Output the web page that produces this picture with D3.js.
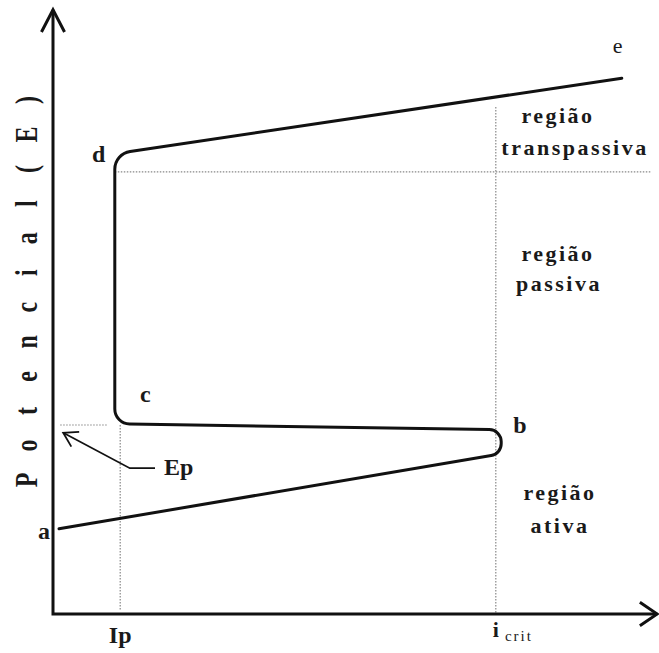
<!DOCTYPE html>
<html>
<head>
<meta charset="utf-8">
<script src="https://cdn.jsdelivr.net/npm/d3@7"></script>
<style>
  body { margin: 0; background: #fff; }
  svg text { font-family: "Liberation Serif", "DejaVu Serif", serif; fill: #1a1a1a; }
  .curve { fill: none; stroke: #111; stroke-width: 3; stroke-linejoin: round; stroke-linecap: round; }
  .axis { fill: none; stroke: #111; stroke-width: 3; }
  .ref { fill: none; stroke: #888; stroke-width: 1.2; stroke-dasharray: 1.5,1.5; }
</style>
</head>
<body>
<svg id="chart" width="659" height="653"></svg>
<script>
(function(){
  // curve vertices (current, potential) in schematic units: a -> b loop -> c -> d -> e
  var curveI = [1, 74.7, 74.7, 10.3, 10.3, 94.8];
  var curveE = [14.2, 26.7, 30.7, 31.7, 76.7, 89.3];
  var cornerR = [0, 12, 12, 15, 18, 0];

  // reference levels
  var Ip = 11.2, iCrit = 73.8, Ep = 31.5, Etr = 73.7;

  var pointLabels = ['a', 'b', 'c', 'd', 'e'];
  var yLabelChars = 'Potencial(E)'.split('');

  var svg = d3.select('#chart');
  var x = d3.scaleLinear().domain([0, 100]).range([53, 653]);
  var y = d3.scaleLinear().domain([0, 100]).range([614, 14]);

  // Helpers
  function roundedPath(pts, radii) {
    var p = d3.path();
    p.moveTo(pts[0][0], pts[0][1]);
    for (var i = 1; i < pts.length - 1; i++) {
      p.arcTo(pts[i][0], pts[i][1], pts[i+1][0], pts[i+1][1], radii[i]);
    }
    var last = pts[pts.length - 1];
    p.lineTo(last[0], last[1]);
    return p.toString();
  }

  function arrowHead(g, tip, from, len, spread, width) {
    var ang = Math.atan2(from[1] - tip[1], from[0] - tip[0]);
    var w1 = [tip[0] + len * Math.cos(ang + spread), tip[1] + len * Math.sin(ang + spread)];
    var w2 = [tip[0] + len * Math.cos(ang - spread), tip[1] + len * Math.sin(ang - spread)];
    g.append('path')
      .attr('d', d3.line()([w1, tip, w2]))
      .attr('fill', 'none')
      .attr('stroke', '#111')
      .attr('stroke-width', width);
  }

  // Reference (dotted) lines
  var refs = svg.append('g');
  refs.append('line').attr('class', 'ref')
    .attr('x1', x(Ip)).attr('x2', x(Ip)).attr('y1', y(Ep)).attr('y2', y(0.6));
  refs.append('line').attr('class', 'ref')
    .attr('x1', x(1.2)).attr('x2', x(9)).attr('y1', y(Ep)).attr('y2', y(Ep));
  refs.append('line').attr('class', 'ref')
    .attr('x1', x(iCrit)).attr('x2', x(iCrit)).attr('y1', y(84.5)).attr('y2', y(0));
  refs.append('line').attr('class', 'ref')
    .attr('x1', x(10.3)).attr('x2', x(99.8)).attr('y1', y(Etr)).attr('y2', y(Etr));

  // Axes
  var axes = svg.append('g');
  axes.append('path').attr('class', 'axis')
    .attr('d', d3.line()([[x(0), y(100.7)], [x(0), y(0)], [x(100.7), y(0)]]));
  arrowHead(axes, [x(0), y(100.7)], [x(0), y(0)], 25, 0.48, 3);
  arrowHead(axes, [x(100.7), y(0)], [x(0), y(0)], 21, 0.6, 3);

  // Polarization curve
  var pts = curveI.map(function(d, i) { return [x(d), y(curveE[i])]; });
  svg.append('path').attr('class', 'curve').attr('d', roundedPath(pts, cornerR));

  // Ep pointer
  var epG = svg.append('g');
  var epPts = [[x(17), y(24.3)], [x(12.8), y(24.3)], [x(1.7), y(30.2)]];
  epG.append('path').attr('d', d3.line()(epPts))
    .attr('fill', 'none').attr('stroke', '#111').attr('stroke-width', 1.8);
  arrowHead(epG, epPts[2], epPts[1], 16, 0.55, 1.8);

  // Point labels
  var labelPos = [[-2.5, 12.5], [76.7, 30.2], [14.5, 35.3], [6.5, 75.3], [93.3, 93.5]];
  svg.append('g').selectAll('text')
    .data(pointLabels)
    .enter()
    .append('text')
    .attr('x', function(d, i) { return x(labelPos[i][0]); })
    .attr('y', function(d, i) { return y(labelPos[i][1]); })
    .attr('font-size', function(d) { return d === 'e' ? 22 : 24; })
    .attr('font-weight', function(d) { return d === 'e' ? 'normal' : 'bold'; })
    .text(function(d) { return d; });

  svg.append('text').attr('x', x(18.5)).attr('y', y(23.2))
    .attr('font-size', 24).attr('font-weight', 'bold').text('Ep');

  // Axis tick labels
  svg.append('text').attr('x', x(Ip)).attr('y', 643)
    .attr('text-anchor', 'middle').attr('font-size', 24).attr('font-weight', 'bold').text('Ip');
  var ic = svg.append('text').attr('x', x(iCrit) - 3).attr('y', 637)
    .attr('font-size', 22).attr('font-weight', 'bold');
  ic.append('tspan').text('i');
  ic.append('tspan').attr('dx', 6).attr('dy', 4).attr('font-size', 15)
    .attr('font-weight', 'normal').attr('letter-spacing', 2).text('crit');

  // Region labels
  var regions = [
    ['região', 558, 123], ['transpassiva', 575, 155],
    ['região', 558, 261], ['passiva', 559, 291],
    ['região', 560, 500], ['ativa', 560, 533]
  ];
  svg.append('g').selectAll('text')
    .data(regions)
    .enter()
    .append('text')
    .attr('x', function(d) { return d[1]; })
    .attr('y', function(d) { return d[2]; })
    .attr('text-anchor', 'middle')
    .attr('font-size', 22)
    .attr('font-weight', 'bold')
    .attr('letter-spacing', 2.5)
    .text(function(d) { return d[0]; });

  // Y axis title, spaced-out vertical letters
  var ly = d3.scalePoint().domain(d3.range(yLabelChars.length)).range([480, 100]);
  svg.append('g').selectAll('text')
    .data(yLabelChars)
    .enter()
    .append('text')
    .attr('transform', function(d, i) {
      return 'translate(37,' + ly(i) + ') rotate(-90) scale(1,1.3)';
    })
    .attr('text-anchor', 'middle')
    .attr('font-size', 24)
    .attr('font-weight', 'bold')
    .text(function(d) { return d; });
})();
</script>
</body>
</html>
